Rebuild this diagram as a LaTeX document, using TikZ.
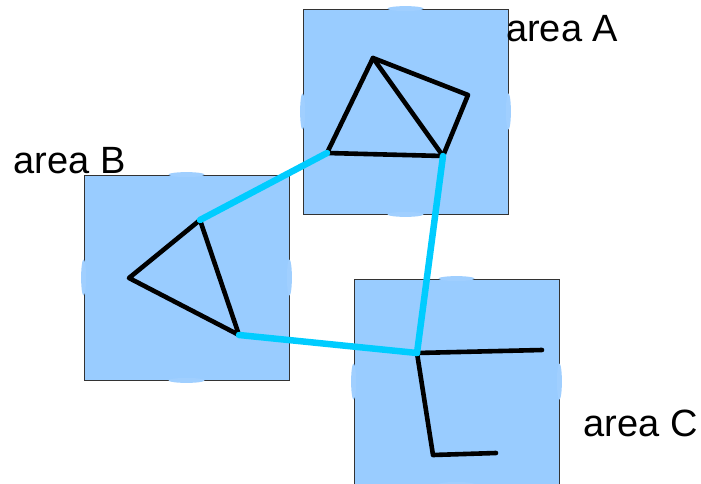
\documentclass[tikz,border=0pt]{standalone}
\usepackage{fontspec}
\setmainfont{Liberation Sans}
\definecolor{areablue}{HTML}{99CCFF}
\definecolor{blobblue}{HTML}{A0CFFF}
\definecolor{linkcyan}{HTML}{00CCFF}
\begin{document}
\begin{tikzpicture}[x=1pt,y=-1pt,
  area/.style={rectangle, draw=black!80, line width=0.8pt, fill=areablue, minimum size=205pt, inner sep=0pt},
  edge/.style={line width=4.6pt, black, line cap=round, line join=round},
  link/.style={line width=6.5pt, linkcyan, line cap=round},
  lbl/.style={inner sep=0pt, anchor=base west, font=\fontsize{38}{40}\selectfont}]
\useasboundingbox (0,0) rectangle (701,484);
% areas
\node[area] (A) at (405.5,111.5) {};
\node[area] (B) at (186.5,277.5) {};
\node[area] (C) at (456.5,381.5) {};
% blobs at edge midpoints
\foreach \s in {A,B,C}{
  \fill[blobblue] (\s.north) ellipse [x radius=18pt, y radius=2.5pt];
  \fill[blobblue] (\s.south) ellipse [x radius=18pt, y radius=2.5pt];
  \fill[blobblue] (\s.west) ellipse [x radius=2.5pt, y radius=18pt];
  \fill[blobblue] (\s.east) ellipse [x radius=2.5pt, y radius=18pt];
}
% points
\coordinate (p1) at (373,58);
\coordinate (p2) at (468,95);
\coordinate (p3) at (443,156);
\coordinate (p4) at (327,153);
\coordinate (q1) at (200,220);
\coordinate (q2) at (129,278);
\coordinate (q3) at (239,335);
\coordinate (r1) at (417,353);
\coordinate (r2) at (542,350);
\coordinate (r3) at (433,455);
\coordinate (r4) at (496,453);
% black figures
\draw[edge] (p1) -- (p2) -- (p3) -- (p4) -- cycle;
\draw[edge] (p1) -- (p3);
\draw[edge] (q1) -- (q2) -- (q3) -- cycle;
\draw[edge] (r2) -- (r1) -- (r3) -- (r4);
% cyan links
\draw[link] (p4) -- (q1);
\draw[link] (q3) -- (r1);
\draw[link] (r1) -- (p3);
% labels
\node[lbl] (la) at (506,42) {area A};
\node[lbl] (lb) at (13.5,173) {area B};
\node[lbl] (lc) at (583.5,436) {area C};
\end{tikzpicture}
\end{document}
